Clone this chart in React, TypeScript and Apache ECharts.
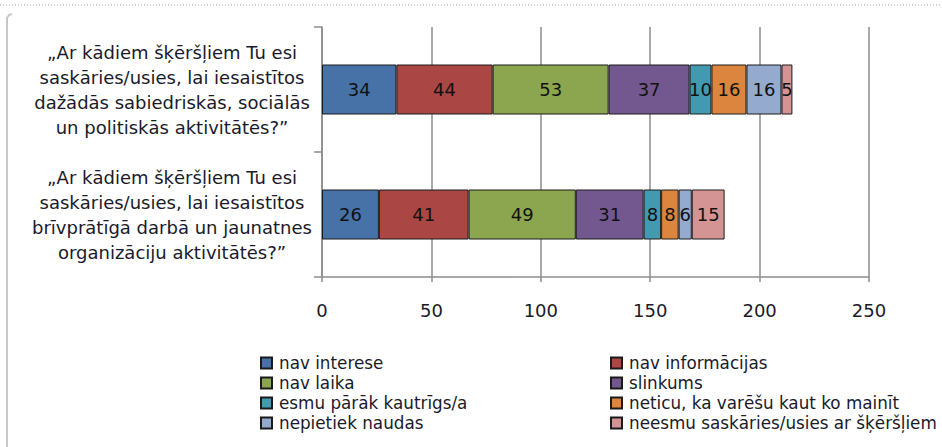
import React, { useEffect, useRef } from "react";
import * as echarts from "echarts";

const categories = [
  "„Ar kādiem šķēršļiem Tu esi\nsaskāries/usies, lai iesaistītos\ndažādās sabiedriskās, sociālās\nun politiskās aktivitātēs?”",
  "„Ar kādiem šķēršļiem Tu esi\nsaskāries/usies, lai iesaistītos\nbrīvprātīgā darbā un jaunatnes\norganizāciju aktivitātēs?”",
];

const seriesNames = [
  "nav interese",
  "nav informācijas",
  "nav laika",
  "slinkums",
  "esmu pārāk kautrīgs/a",
  "neticu, ka varēšu kaut ko mainīt",
  "nepietiek naudas",
  "neesmu saskāries/usies ar šķēršļiem",
];

const navInterese = [34, 26];
const navInformacijas = [44, 41];
const navLaika = [53, 49];
const slinkums = [37, 31];
const kautrigs = [10, 8];
const neticu = [16, 8];
const nepietiekNaudas = [16, 6];
const neesmu = [5, 15];

const seriesValues = [
  navInterese,
  navInformacijas,
  navLaika,
  slinkums,
  kautrigs,
  neticu,
  nepietiekNaudas,
  neesmu,
];

const colors = [
  "#4672A8",
  "#AA4644",
  "#8BA64E",
  "#72588F",
  "#4299B0",
  "#DC853E",
  "#95AACF",
  "#D39493",
];

const xTicks = [0, 250, 50];

const FONT = "'DejaVu Sans', Verdana, sans-serif";

export default function App() {
  const ref = useRef<HTMLDivElement>(null);
  useEffect(() => {
    if (!ref.current) return;
    const chart = echarts.init(ref.current, undefined, { renderer: "svg" });
    const legendCommon = {
      orient: "vertical" as const,
      top: 353,
      padding: 0,
      itemGap: 0,
      itemWidth: 11,
      itemHeight: 11,
      icon: "rect",
      textStyle: {
        fontFamily: FONT,
        fontSize: 16.8,
        color: "#1a1a2a",
        lineHeight: 20,
        padding: [0, 0, 0, 2],
      },
    };
    chart.setOption({
      animation: false,
      backgroundColor: "#ffffff",
      textStyle: { fontFamily: FONT },
      grid: { left: 322, top: 27, width: 547, height: 250, containLabel: false },
      legend: [
        { ...legendCommon, left: 260, data: [seriesNames[0], seriesNames[2], seriesNames[4], seriesNames[6]] },
        { ...legendCommon, left: 610, data: [seriesNames[1], seriesNames[3], seriesNames[5], seriesNames[7]] },
      ],
      xAxis: {
        type: "value",
        min: xTicks[0],
        max: xTicks[1],
        interval: xTicks[2],
        axisLine: { show: true, lineStyle: { color: "#8c8c8c", width: 1.5 } },
        axisTick: { show: true, length: 5, lineStyle: { color: "#8c8c8c", width: 1.5 } },
        splitLine: { show: true, lineStyle: { color: "#8c8c8c", width: 1.5 } },
        axisLabel: { fontFamily: FONT, fontSize: 18, color: "#1a1a2a", margin: 24 },
      },
      yAxis: {
        type: "category",
        inverse: true,
        data: categories,
        axisLine: { show: true, lineStyle: { color: "#8c8c8c", width: 1.5 } },
        axisTick: { show: true, length: 8, lineStyle: { color: "#8c8c8c", width: 1.5 } },
        axisLabel: {
          fontFamily: FONT,
          fontSize: 18,
          lineHeight: 25,
          color: "#1a1a2a",
          align: "center",
          margin: 150,
        },
      },
      graphic: [
        {
          type: "line",
          shape: { x1: 0, y1: 5, x2: 942, y2: 5 },
          style: { stroke: "#a0a0a0", lineWidth: 1, lineDash: [1, 2] },
        },
        {
          type: "polyline",
          shape: { points: [[7, 447], [7, 18], [9, 15], [12, 14]] },
          style: { stroke: "#c8c8c8", lineWidth: 2, fill: "none" },
        },
      ],
      series: seriesNames.map((name, i) => ({
        name,
        type: "bar",
        stack: "total",
        barWidth: 50,
        data: seriesValues[i],
        itemStyle: { color: colors[i], borderColor: "#1a1a1a", borderWidth: 1 },
        label: {
          show: true,
          position: "inside",
          color: "#111",
          fontFamily: FONT,
          fontSize: 18,
        },
      })),
    });
    return () => chart.dispose();
  }, []);
  return (
    <div
      ref={ref}
      style={{ position: "absolute", left: 0, top: 0, width: 942, height: 447 }}
    />
  );
}
